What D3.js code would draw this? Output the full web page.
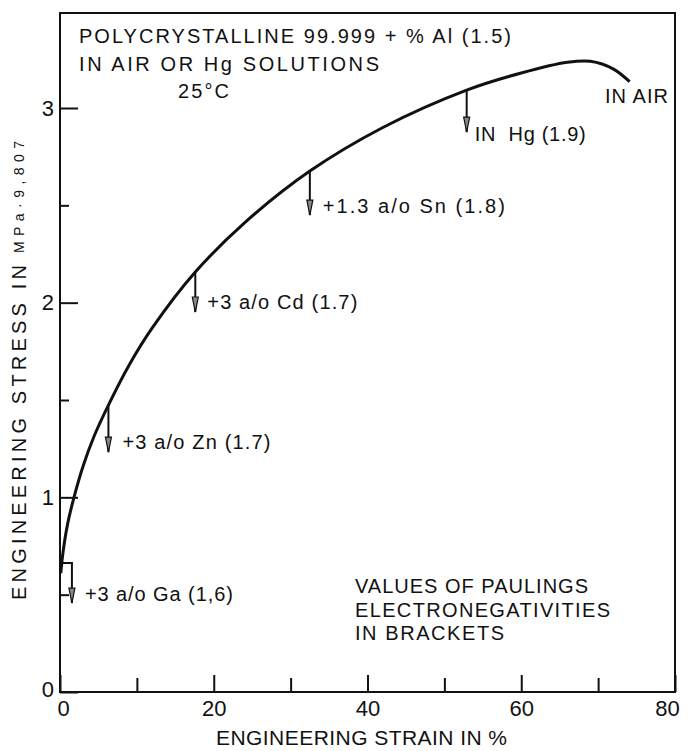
<!DOCTYPE html>
<html>
<head>
<meta charset="utf-8">
<script src="https://cdn.jsdelivr.net/npm/d3@7"></script>
<style>
  html, body { margin: 0; padding: 0; background: #fff; }
  svg { display: block; }
  text { font-family: "Liberation Sans", Arial, sans-serif; fill: #111; }
</style>
</head>
<body>
<svg id="chart" width="689" height="751"></svg>
<script>
// Stress–strain curve of polycrystalline Al in air
const strain = [0.1, 0.4, 1.0, 1.82, 3.0, 4.5, 6.3, 9.0, 12.0, 17.6, 24.0, 32.5, 42.0, 52.9, 60.0, 66.0, 69.0, 72.0, 74.1];
const stress = [0.61, 0.72, 0.865, 1.0, 1.16, 1.32, 1.474, 1.68, 1.87, 2.157, 2.41, 2.676, 2.90, 3.092, 3.18, 3.235, 3.24, 3.20, 3.135];

// Fracture points for each liquid-metal addition (arrow from curve down to tip)
const additions = ["+3 a/o Ga (1,6)", "+3 a/o Zn (1.7)", "+3 a/o Cd (1.7)", "+1.3 a/o Sn (1.8)", "IN  Hg (1.9)"];
const addStrain = [1.55, 6.3, 17.6, 32.5, 52.9];
const addStressTop = [0.663, 1.474, 2.157, 2.676, 3.092];
const addStressTip = [0.457, 1.232, 1.952, 2.45, 2.876];

// Axis ticks
const xMajor = [0, 20, 40, 60, 80];
const xMinor = [10, 30, 50, 70];
const yMajor = [0, 1, 2, 3];
const yMinor = [0.5, 1.5, 2.5];

const FONT = "'Liberation Sans', Arial, sans-serif";
const svg = d3.select("#chart");
const x = d3.scaleLinear().domain([0, 80]).range([60, 675]);
const y = d3.scaleLinear().domain([0, 3]).range([692, 108]);
const frameTop = 13;

// Frame
svg.append("rect")
  .attr("x", x(0)).attr("y", frameTop)
  .attr("width", x(80) - x(0)).attr("height", y(0) - frameTop)
  .attr("fill", "none").attr("stroke", "#111").attr("stroke-width", 2);

// X axis (ticks point inward)
const xAxis = svg.append("g").attr("transform", `translate(0,${y(0)})`)
  .call(d3.axisBottom(x).tickValues(xMajor).tickSizeInner(-17).tickSizeOuter(0).tickPadding(8).tickFormat(d3.format("d")));
xAxis.select(".domain").remove();
xAxis.selectAll("line").attr("stroke", "#111").attr("stroke-width", 2);
xAxis.selectAll("text").attr("font-size", 22).style("font-family", FONT).attr("fill", "#111")
  .attr("dx", d => d === 80 ? -8 : d === 0 ? 3 : 0);

const xAxisMinor = svg.append("g").attr("transform", `translate(0,${y(0)})`)
  .call(d3.axisBottom(x).tickValues(xMinor).tickSizeInner(-14).tickSizeOuter(0).tickFormat(""));
xAxisMinor.select(".domain").remove();
xAxisMinor.selectAll("line").attr("stroke", "#111").attr("stroke-width", 2);

// Y axis
const yAxis = svg.append("g").attr("transform", `translate(${x(0)},0)`)
  .call(d3.axisLeft(y).tickValues(yMajor).tickSizeInner(-18).tickSizeOuter(0).tickPadding(6).tickFormat(d3.format("d")));
yAxis.select(".domain").remove();
yAxis.selectAll("line").attr("stroke", "#111").attr("stroke-width", 2);
yAxis.selectAll("text").attr("font-size", 22).style("font-family", FONT).attr("fill", "#111")
  .attr("dy", d => d === 0 ? "0.2em" : "0.32em");

const yAxisMinor = svg.append("g").attr("transform", `translate(${x(0)},0)`)
  .call(d3.axisLeft(y).tickValues(yMinor).tickSizeInner(-9).tickSizeOuter(0).tickFormat(""));
yAxisMinor.select(".domain").remove();
yAxisMinor.selectAll("line").attr("stroke", "#111").attr("stroke-width", 2);

// Curve
const pts = strain.map((s, i) => [s, stress[i]]);
svg.append("path")
  .datum(pts)
  .attr("d", d3.line().x(d => x(d[0])).y(d => y(d[1])).curve(d3.curveCatmullRom.alpha(0.5)))
  .attr("fill", "none").attr("stroke", "#111").attr("stroke-width", 3);

// Arrows
const labelLayout = [
  { dx: 13, dy: -2, w: 148 },
  { dx: 14, dy: -3, w: 148 },
  { dx: 12, dy: -3, w: 150 },
  { dx: 13, dy: -2, w: 182 },
  { dx: 8,  dy: 9,  w: 111 }
];
additions.forEach((label, i) => {
  const ax = x(addStrain[i]);
  const top = y(addStressTop[i]);
  const tip = y(addStressTip[i]);
  let d;
  if (i === 0) {
    // Ga: bracket leaves the curve horizontally, then drops
    d = `M${x(0.15)},${top}H${ax}V${tip}`;
  } else {
    d = `M${ax},${top}V${tip}`;
  }
  svg.append("path").attr("d", d).attr("fill", "none").attr("stroke", "#111").attr("stroke-width", 2);
  svg.append("path")
    .attr("d", `M${ax - 3},${tip - 15}L${ax},${tip}L${ax + 3},${tip - 15}Z`)
    .attr("fill", "#888").attr("stroke", "#111").attr("stroke-width", 1.2);
  const L = labelLayout[i];
  svg.append("text")
    .attr("x", ax + L.dx).attr("y", tip + L.dy)
    .attr("font-size", 20)
    .attr("textLength", L.w).attr("lengthAdjust", "spacing")
    .style("white-space", "pre")
    .text(label);
});

// Annotation text
function note(str, x0, yb, w, size) {
  svg.append("text").attr("x", x0).attr("y", yb)
    .attr("font-size", size || 20)
    .attr("textLength", w).attr("lengthAdjust", "spacing")
    .text(str);
}
note("POLYCRYSTALLINE 99.999 + % Al (1.5)", 79, 43, 432);
note("IN AIR OR Hg SOLUTIONS", 79, 71, 300);
note("25°C", 178, 98, 51);
note("IN AIR", 605, 103, 63);
note("VALUES OF PAULINGS", 355, 593, 233);
note("ELECTRONEGATIVITIES", 355, 617, 255);
note("IN BRACKETS", 355, 640, 149);

// Axis titles
note("ENGINEERING STRAIN IN %", 216, 745, 291, 21);

svg.append("text")
  .attr("transform", "translate(26,600) rotate(-90)")
  .attr("font-size", 20)
  .attr("textLength", 335).attr("lengthAdjust", "spacing")
  .text("ENGINEERING STRESS IN");
svg.append("text")
  .attr("transform", "translate(24,253) rotate(-90)")
  .attr("font-size", 14)
  .attr("textLength", 112).attr("lengthAdjust", "spacing")
  .text("MPa·9,807");
</script>
</body>
</html>
